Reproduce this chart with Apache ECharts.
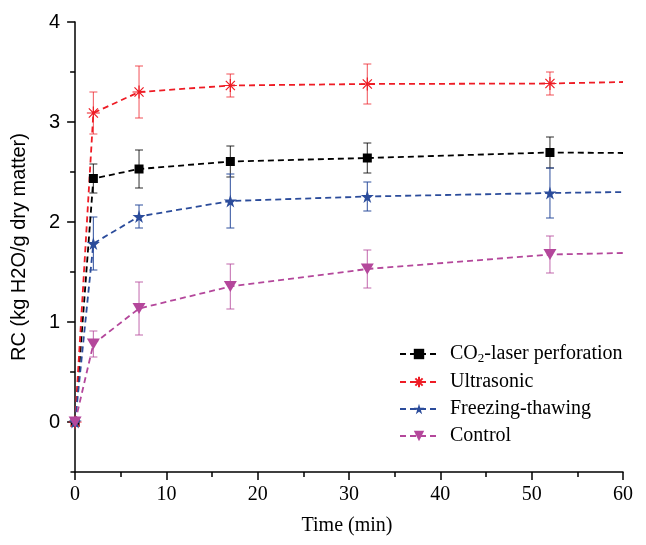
<!DOCTYPE html>
<html>
<head>
<meta charset="utf-8">
<script src="https://cdn.jsdelivr.net/npm/echarts@6/dist/echarts.min.js"></script>
<style>
  html, body { margin: 0; padding: 0; background: #fff; }
  #chart { width: 646px; height: 545px; }
</style>
</head>
<body>
<div id="chart"></div>
<script>
// Rehydration capacity over time for four pre-treatments
const times = [0, 2, 7, 17, 32, 52];
const curveEnd = 60;

const co2Laser = [0, 2.435, 2.53, 2.605, 2.64, 2.695];
const co2LaserErr = [0, 0.145, 0.19, 0.155, 0.15, 0.155];
const co2LaserEnd = 2.69;

const ultrasonic = [0, 3.09, 3.30, 3.365, 3.38, 3.385];
const ultrasonicErr = [0, 0.21, 0.26, 0.115, 0.20, 0.115];
const ultrasonicEnd = 3.40;

const freezing = [0, 1.785, 2.055, 2.21, 2.255, 2.29];
const freezingErr = [0, 0.265, 0.115, 0.27, 0.145, 0.25];
const freezingEnd = 2.30;

const control = [0, 0.78, 1.135, 1.355, 1.53, 1.675];
const controlErr = [0, 0.13, 0.265, 0.225, 0.19, 0.185];
const controlEnd = 1.69;

const xMajorTicks = [0, 10, 20, 30, 40, 50, 60];
const xMinorTicks = [5, 15, 25, 35, 45, 55];
const yMajorTicks = [0, 1, 2, 3, 4];
const yMinorTicks = [0.5, 1.5, 2.5, 3.5];

const serif = 'Liberation Serif';
const sans = 'Liberation Sans';

const starPath = 'path://M50,0 L61,35 L98,35 L68,57 L79,91 L50,70 L21,91 L32,57 L2,35 L39,35 Z';
const asteriskPath = 'path://M0,50 L100,50 M50,0 L50,100 M15,15 L85,85 M85,15 L15,85';

function curveData(values, endValue) {
  const pts = times.map((t, i) => [t, values[i]]);
  pts.push({ value: [curveEnd, endValue], symbol: 'none' });
  return pts;
}

function lineSeries(name, values, endValue, color, symbolOpts) {
  return Object.assign({
    name: name,
    type: 'line',
    data: curveData(values, endValue),
    lineStyle: { color: color, width: 1.8, type: [6, 4] },
    itemStyle: { color: color },
    z: 3
  }, symbolOpts);
}

function errorSeries(values, errs, color) {
  return {
    type: 'custom',
    data: times.map((t, i) => [t, values[i], errs[i]]).filter(d => d[2] > 0),
    z: 2,
    silent: true,
    renderItem: function (params, api) {
      const x = api.value(0), v = api.value(1), e = api.value(2);
      const top = api.coord([x, v + e]);
      const bot = api.coord([x, v - e]);
      const hw = 4;
      const style = { stroke: color, lineWidth: 1.1, fill: null };
      return {
        type: 'group',
        children: [
          { type: 'line', shape: { x1: top[0], y1: top[1], x2: bot[0], y2: bot[1] }, style: style },
          { type: 'line', shape: { x1: top[0] - hw, y1: top[1], x2: top[0] + hw, y2: top[1] }, style: style },
          { type: 'line', shape: { x1: bot[0] - hw, y1: bot[1], x2: bot[0] + hw, y2: bot[1] }, style: style }
        ]
      };
    }
  };
}

const black = '#000000';
const red = '#ee1c25';
const blue = '#2b4c9b';
const pink = '#b4479b';

const chart = echarts.init(document.getElementById('chart'), null, { renderer: 'canvas' });

chart.setOption({
  animation: false,
  backgroundColor: '#ffffff',
  grid: { left: 71, right: 23, top: 22, bottom: 73, containLabel: false },
  xAxis: [
    {
      type: 'value', min: -0.45, max: 60,
      axisLine: { onZero: false, lineStyle: { color: '#000', width: 1.5 } },
      axisTick: { show: true, inside: false, length: 8, lineStyle: { color: '#000', width: 1.5 }, customValues: xMajorTicks },
      axisLabel: { color: '#000', fontFamily: serif, fontSize: 20, margin: 13, customValues: xMajorTicks },
      splitLine: { show: false },
      name: 'Time (min)', nameLocation: 'middle', nameGap: 44,
      nameTextStyle: { color: '#000', fontFamily: serif, fontSize: 20 }
    },
    {
      type: 'value', min: -0.45, max: 60, position: 'bottom',
      axisLine: { show: false, onZero: false },
      axisTick: { show: true, inside: false, length: 5, lineStyle: { color: '#000', width: 1.5 }, customValues: xMinorTicks },
      axisLabel: { show: false },
      splitLine: { show: false }
    }
  ],
  yAxis: [
    {
      type: 'value', min: -0.5, max: 4,
      axisLine: { show: true, onZero: true, lineStyle: { color: '#000', width: 1.5 } },
      axisTick: { show: true, inside: false, length: 8, lineStyle: { color: '#000', width: 1.5 }, customValues: yMajorTicks },
      axisLabel: { color: '#000', fontFamily: sans, fontSize: 20, margin: 11, customValues: yMajorTicks },
      splitLine: { show: false },
      name: 'RC (kg H2O/g dry matter)', nameLocation: 'middle', nameGap: 42,
      nameTextStyle: { color: '#000', fontFamily: sans, fontSize: 20 }
    },
    {
      type: 'value', min: -0.5, max: 4, position: 'left',
      axisLine: { show: false, onZero: true },
      axisTick: { show: true, inside: false, length: 5, lineStyle: { color: '#000', width: 1.5 }, customValues: yMinorTicks },
      axisLabel: { show: false },
      splitLine: { show: false }
    }
  ],
  legend: {
    orient: 'vertical',
    left: 394,
    top: 339,
    itemWidth: 38,
    itemHeight: 13,
    itemGap: 7,
    textStyle: {
      color: '#000', fontFamily: serif, fontSize: 20, lineHeight: 20, padding: [0, 0, 0, 7],
      rich: {
        n: { fontFamily: serif, fontSize: 20, color: '#000' },
        s: { fontFamily: serif, fontSize: 13, color: '#000', padding: [9, 0, 0, 0] }
      }
    },
    formatter: function (name) {
      if (name === 'CO2-laser perforation') return '{n|CO}{s|2}{n|-laser perforation}';
      return name;
    },
    data: ['CO2-laser perforation', 'Ultrasonic', 'Freezing-thawing', 'Control']
  },
  series: [
    errorSeries(co2Laser, co2LaserErr, 'rgba(0,0,0,0.75)'),
    errorSeries(ultrasonic, ultrasonicErr, 'rgba(238,28,37,0.7)'),
    errorSeries(freezing, freezingErr, 'rgba(43,76,155,0.9)'),
    errorSeries(control, controlErr, 'rgba(180,71,155,0.75)'),
    lineSeries('CO2-laser perforation', co2Laser, co2LaserEnd, black, { symbol: 'rect', symbolSize: 9 }),
    lineSeries('Ultrasonic', ultrasonic, ultrasonicEnd, red, {
      symbol: asteriskPath, symbolSize: 13,
      itemStyle: { color: 'rgba(0,0,0,0)', borderColor: red, borderWidth: 1.2 }
    }),
    lineSeries('Freezing-thawing', freezing, freezingEnd, blue, { symbol: starPath, symbolSize: 13 }),
    lineSeries('Control', control, controlEnd, pink, { symbol: 'triangle', symbolRotate: 180, symbolSize: [13, 11] })
  ]
});
</script>
</body>
</html>
